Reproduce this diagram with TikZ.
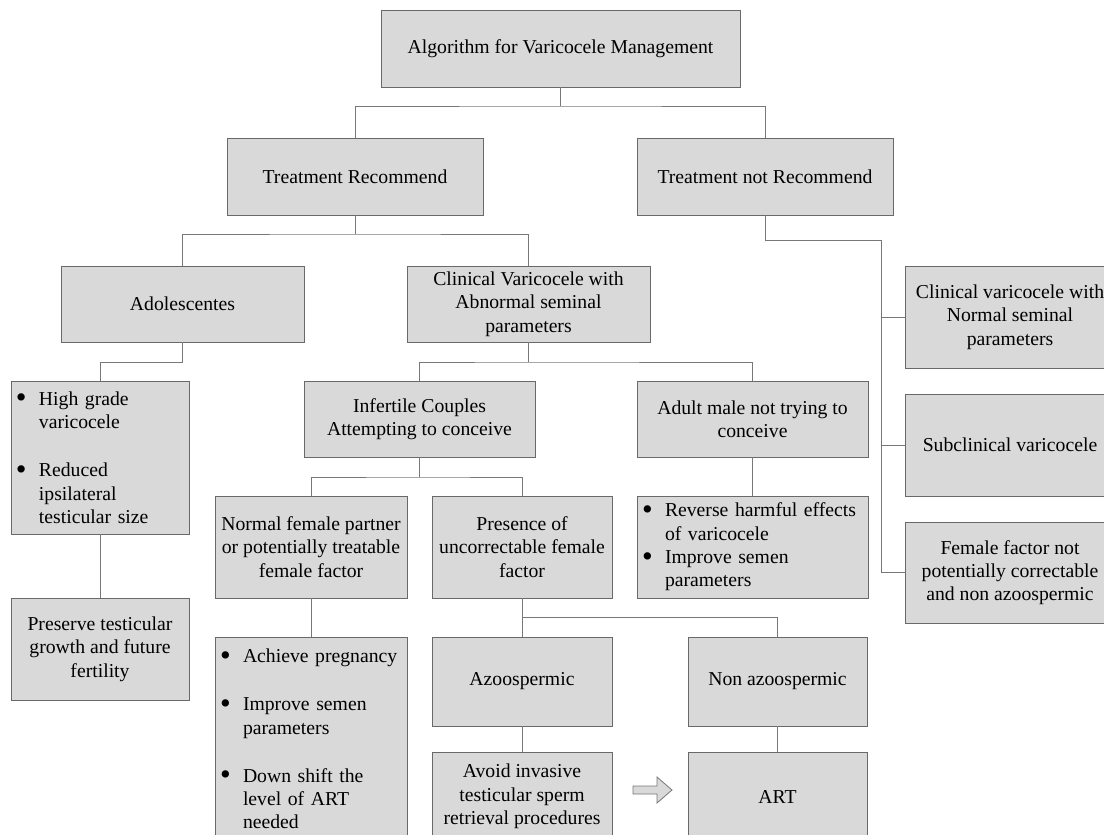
\documentclass[tikz,border=0pt]{standalone}
\usepackage{fontspec}
\setmainfont{Liberation Serif}
\definecolor{boxfill}{RGB}{217,217,217}
\definecolor{boxline}{RGB}{105,105,105}
\definecolor{conn}{RGB}{120,120,120}
\newcommand{\bul}{\makebox[24pt][l]{\hspace{1pt}\raisebox{-2.6pt}{\scalebox{1.55}{\textbullet}}}}
\newcommand{\ind}{\hspace*{24pt}}
\begin{document}
\begin{tikzpicture}[x=1pt,y=-1pt,
  box/.style={draw=boxline,fill=boxfill,line width=0.9pt,inner sep=0pt,align=center,
    font=\fontsize{19.7pt}{23.3pt}\selectfont},
  bbox/.style={draw=boxline,fill=boxfill,line width=0.9pt,inner xsep=4pt,inner ysep=0pt,align=left,
    font=\fontsize{19.7pt}{23.3pt}\selectfont},
  link/.style={draw=conn,line width=0.9pt},
  hollow/.style={draw=conn,fill=boxfill,line width=0.8pt,line join=miter}]
\useasboundingbox (0,0) rectangle (1104,835);
\clip (0,0) rectangle (1104,835);
\fill[white] (0,0) rectangle (1104,835);

% boxes
\node[box,minimum width=359pt,minimum height=77pt] (top) at (560.5,48.5) {Algorithm for Varicocele Management};
\node[box,minimum width=256pt,minimum height=77pt] (TR) at (355,176.5) {Treatment Recommend};
\node[box,minimum width=256pt,minimum height=77pt] (TnR) at (765,176.5) {Treatment not Recommend};
\node[box,minimum width=243pt,minimum height=76pt] (Adol) at (182.5,304) {Adolescentes};
\node[box,minimum width=243pt,minimum height=76pt] (ClinAb) at (528.5,304) {Clinical Varicocele with\\Abnormal seminal\\parameters};
\node[bbox,text width=170pt,minimum width=178pt,minimum height=153pt] (LeftBul) at (100,457.5)
  {\bul High grade\\\ind varicocele\\[25pt]\bul Reduced\\\ind ipsilateral\\\ind testicular size};
\node[box,minimum width=178pt,minimum height=102pt] (Pres) at (100,649) {Preserve testicular\\growth and future\\fertility};
\node[box,minimum width=231pt,minimum height=76pt] (Inf) at (419.5,419) {Infertile Couples\\Attempting to conceive};
\node[box,minimum width=231pt,minimum height=76pt] (Adult) at (752.5,419) {Adult male not trying to\\conceive};
\node[box,minimum width=192pt,minimum height=102pt] (NormF) at (311,547) {Normal female partner\\or potentially treatable\\female factor};
\node[box,minimum width=180pt,minimum height=102pt] (Presence) at (522,547) {Presence of\\uncorrectable female\\factor};
\node[bbox,text width=223pt,minimum width=231pt,minimum height=102pt] (Rev) at (752.5,547)
  {\bul Reverse harmful effects\\\ind of varicocele\\\bul Improve semen\\\ind parameters};
\node[bbox,text width=184pt,minimum width=192pt,minimum height=204pt] (Ach) at (311,739)
  {\bul Achieve pregnancy\\[25pt]\bul Improve semen\\\ind parameters\\[25pt]\bul Down shift the\\\ind level of ART\\\ind needed};
\node[box,minimum width=180pt,minimum height=89pt] (Azoo) at (522,681.5) {Azoospermic};
\node[box,minimum width=179pt,minimum height=89pt] (NonAzoo) at (777.5,681.5) {Non azoospermic};
\node[box,minimum width=180pt,minimum height=89pt] (Avoid) at (522,796.5) {Avoid invasive\\testicular sperm\\retrieval procedures};
\node[box,minimum width=179pt,minimum height=89pt] (ART) at (777.5,796.5) {ART};
\node[box,minimum width=210pt,minimum height=102pt] (R1) at (1010,317) {Clinical varicocele with\\Normal seminal\\parameters};
\node[box,minimum width=210pt,minimum height=102pt] (R2) at (1010,445) {Subclinical varicocele};
\node[box,minimum width=210pt,minimum height=101pt] (R3) at (1010,572.5) {Female factor not\\potentially correctable\\and non azoospermic};

% junctions
\coordinate (j1) at (560.5,106);
\coordinate (j2) at (355,234);
\coordinate (j3) at (100,362);
\coordinate (j4) at (528.5,362);
\coordinate (j5) at (419.5,477);
\coordinate (j6) at (522,617);
\coordinate (bus) at (881,240);

% connectors
\draw[link] (top.south) -- (j1);
\draw[link] (TR.north) |- (j1) -| (TnR.north);
\draw[link] (TR.south) -- (j2);
\draw[link] (Adol.north) |- (j2) -| (ClinAb.north);
\draw[link] (Adol.south) |- (j3) -- (LeftBul.north);
\draw[link] (LeftBul.south) -- (Pres.north);
\draw[link] (ClinAb.south) -- (j4);
\draw[link] (Inf.north) |- (j4) -| (Adult.north);
\draw[link] (Inf.south) -- (j5);
\draw[link] (NormF.north) |- (j5) -| (Presence.north);
\draw[link] (NormF.south) -- (Ach.north);
\draw[link] (Adult.south) -- (Rev.north);
\draw[link] (Presence.south) -- (Azoo.north);
\draw[link] (j6) -| (NonAzoo.north);
\draw[link] (Azoo.south) -- (Avoid.north);
\draw[link] (NonAzoo.south) -- (ART.north);
\draw[link] (TnR.south) |- (bus) |- (R3.west);
\draw[link] (R1.west) -- (R1.west -| bus);
\draw[link] (R2.west) -- (R2.west -| bus);

% hollow arrow
\draw[hollow] (633,786) -- (657,786) -- (657,777) -- (672,790) -- (657,803) -- (657,794) -- (633,794) -- cycle;
\end{tikzpicture}
\end{document}
